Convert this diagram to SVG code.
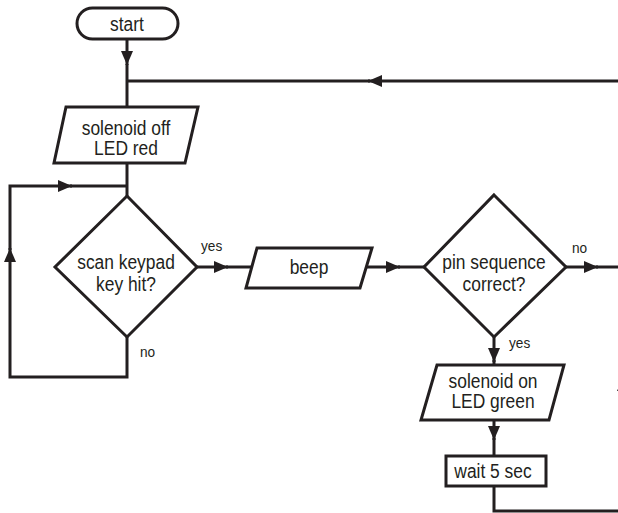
<svg xmlns="http://www.w3.org/2000/svg" width="618" height="513" viewBox="0 0 618 513">
<style>
.shape{fill:#fff;stroke:#231f20;stroke-width:3;stroke-linejoin:miter}
.conn{fill:none;stroke:#231f20;stroke-width:3}
.t{font-family:"Liberation Sans",Arial,sans-serif;font-size:20px;fill:#231f20;text-anchor:middle}
.s{font-family:"Liberation Sans",Arial,sans-serif;font-size:15.5px;fill:#231f20;text-anchor:start}
</style>
<defs>
<marker id="ah" viewBox="0 0 14 12" refX="14" refY="6" markerWidth="14" markerHeight="12" markerUnits="userSpaceOnUse" orient="auto">
<path d="M0,0 L14,6 L0,12 z" fill="#231f20"/>
</marker>
</defs>
<g id="connectors">
<line class="conn" x1="127" y1="39" x2="127" y2="65" marker-end="url(#ah)"/>
<line class="conn" x1="127" y1="64" x2="127" y2="107"/>
<line class="conn" x1="618" y1="81" x2="368" y2="81" marker-end="url(#ah)"/>
<line class="conn" x1="370" y1="81" x2="127" y2="81"/>
<line class="conn" x1="127" y1="163" x2="127" y2="196"/>
<path class="conn" d="M127,337 L127,377 L10,377 L10,248" marker-end="url(#ah)"/>
<path class="conn" d="M10,250 L10,186 L72,186" marker-end="url(#ah)"/>
<line class="conn" x1="70" y1="186" x2="127" y2="186"/>
<line class="conn" x1="197" y1="267" x2="228" y2="267" marker-end="url(#ah)"/>
<line class="conn" x1="226" y1="267" x2="252" y2="267"/>
<line class="conn" x1="366" y1="267" x2="400" y2="267" marker-end="url(#ah)"/>
<line class="conn" x1="398" y1="267" x2="424" y2="267"/>
<line class="conn" x1="566" y1="267" x2="598" y2="267" marker-end="url(#ah)"/>
<line class="conn" x1="596" y1="267" x2="618" y2="267"/>
<line class="conn" x1="494" y1="337" x2="494" y2="362" marker-end="url(#ah)"/>
<line class="conn" x1="494" y1="360" x2="494" y2="365"/>
<line class="conn" x1="494" y1="420" x2="494" y2="440" marker-end="url(#ah)"/>
<line class="conn" x1="494" y1="438" x2="494" y2="456"/>
<path class="conn" d="M494,486 L494,511 L618,511"/>
<path d="M623,378 L617,391 L629,391 z" fill="#231f20"/>
<text class="s" x="0" y="251" transform="matrix(0.88 0 0 1 201 0)">yes</text>
<text class="s" x="0" y="357" transform="matrix(0.88 0 0 1 140 0)">no</text>
<text class="s" x="0" y="253" transform="matrix(0.88 0 0 1 572 0)">no</text>
<text class="s" x="0" y="348" transform="matrix(0.88 0 0 1 509 0)">yes</text>
</g>
<g id="start">
<rect class="shape" x="77" y="8" width="101" height="31" rx="15.5"/>
<text class="t" x="0" y="31" transform="matrix(0.87 0 0 1 127 0)">start</text>
</g>
<g id="solenoid-off">
<polygon class="shape" points="66,107 198,107 185,163 54,163"/>
<text class="t" x="0" y="135" transform="matrix(0.87 0 0 1 126 0)">solenoid off</text>
<text class="t" x="0" y="155" transform="matrix(0.87 0 0 1 126 0)">LED red</text>
</g>
<g id="scan-keypad">
<polygon class="shape" points="127,196 197,267 127,337 55,267"/>
<text class="t" x="0" y="269" transform="matrix(0.87 0 0 1 126 0)">scan keypad</text>
<text class="t" x="0" y="291" transform="matrix(0.87 0 0 1 126 0)">key hit?</text>
</g>
<g id="beep">
<polygon class="shape" points="257,248 372,248 360,288 246,288"/>
<text class="t" x="0" y="274" transform="matrix(0.87 0 0 1 309 0)">beep</text>
</g>
<g id="pin-sequence">
<polygon class="shape" points="494,195 566,267 494,337 424,267"/>
<text class="t" x="0" y="269" transform="matrix(0.87 0 0 1 494 0)">pin sequence</text>
<text class="t" x="0" y="291" transform="matrix(0.87 0 0 1 494 0)">correct?</text>
</g>
<g id="solenoid-on">
<polygon class="shape" points="437,365 564,365 549,420 421,420"/>
<text class="t" x="0" y="388" transform="matrix(0.87 0 0 1 493 0)">solenoid on</text>
<text class="t" x="0" y="408" transform="matrix(0.87 0 0 1 493 0)">LED green</text>
</g>
<g id="wait">
<rect class="shape" x="446" y="456" width="100" height="30"/>
<text class="t" x="0" y="478" transform="matrix(0.87 0 0 1 493 0)">wait 5 sec</text>
</g>
</svg>
